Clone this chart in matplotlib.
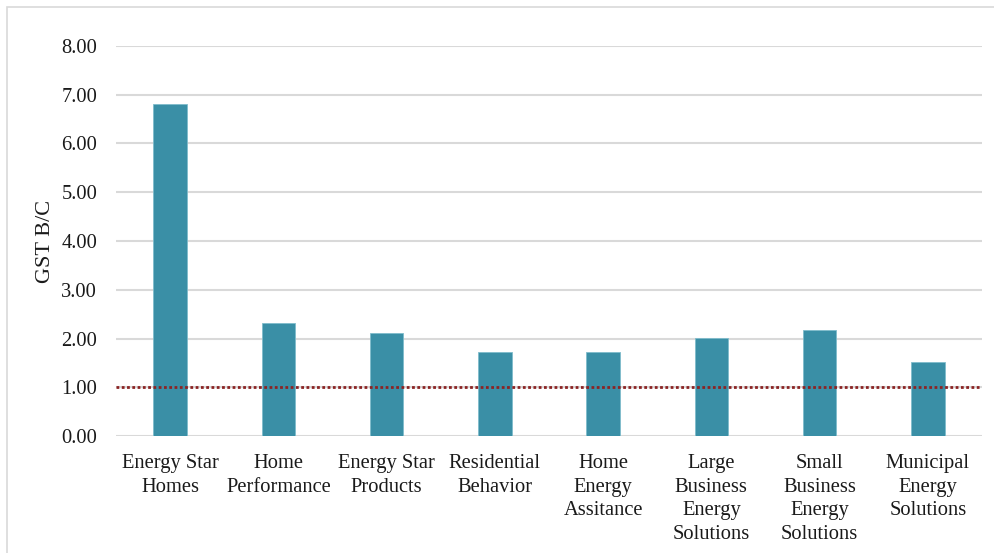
import matplotlib.pyplot as plt
from matplotlib.patches import Rectangle

# programs and their benefit/cost ratios
programs = [
    'Energy Star\nHomes',
    'Home\nPerformance',
    'Energy Star\nProducts',
    'Residential\nBehavior',
    'Home\nEnergy\nAssitance',
    'Large\nBusiness\nEnergy\nSolutions',
    'Small\nBusiness\nEnergy\nSolutions',
    'Municipal\nEnergy\nSolutions',
]
gst_bc = [6.81, 2.31, 2.11, 1.72, 1.73, 2.02, 2.17, 1.52]
threshold = 1.0
y_ticks = [0, 1, 2, 3, 4, 5, 6, 7, 8]

plt.rcParams['font.family'] = ['Liberation Serif', 'DejaVu Serif']

fig = plt.figure(figsize=(9.94, 5.53), dpi=100)
ax = fig.add_axes([116 / 994, 117 / 553, 866 / 994, 390 / 553])

x = range(len(programs))
ax.bar(x, gst_bc, width=0.31, color='#3a8fa6', edgecolor='#7fbccb',
       linewidth=0.6, zorder=3)
ax.axhline(threshold, color='#8b2323', linewidth=2.0,
           linestyle=(0, (1, 0.9)), zorder=4)

ax.set_xlim(-0.5, len(programs) - 0.5)
ax.set_ylim(0, 8)
ax.set_yticks(y_ticks)
ax.set_yticklabels([f'{v:.2f}' for v in y_ticks])
ax.set_xticks(list(x))
ax.set_xticklabels(programs, linespacing=1.33)

ax.grid(axis='y', color='#d9d9d9', linewidth=1.5, zorder=0)
for side in ax.spines.values():
    side.set_visible(False)
ax.tick_params(axis='both', length=0, labelsize=14.8, colors='#1a1a1a')
ax.tick_params(axis='y', pad=13.5)
ax.tick_params(axis='x', pad=13)

ax.set_ylabel('GST B/C', fontsize=16, color='#1a1a1a')
ax.yaxis.set_label_coords(-0.071, 0.5)

# light frame around the chart area
fig.add_artist(Rectangle((7 / 994, -0.1), 1.2, (553 - 6.5) / 553 + 0.1,
                         transform=fig.transFigure, fill=False,
                         edgecolor='#d9d9d9', linewidth=1.2))

fig.savefig('out.png', dpi=100, facecolor='white')
